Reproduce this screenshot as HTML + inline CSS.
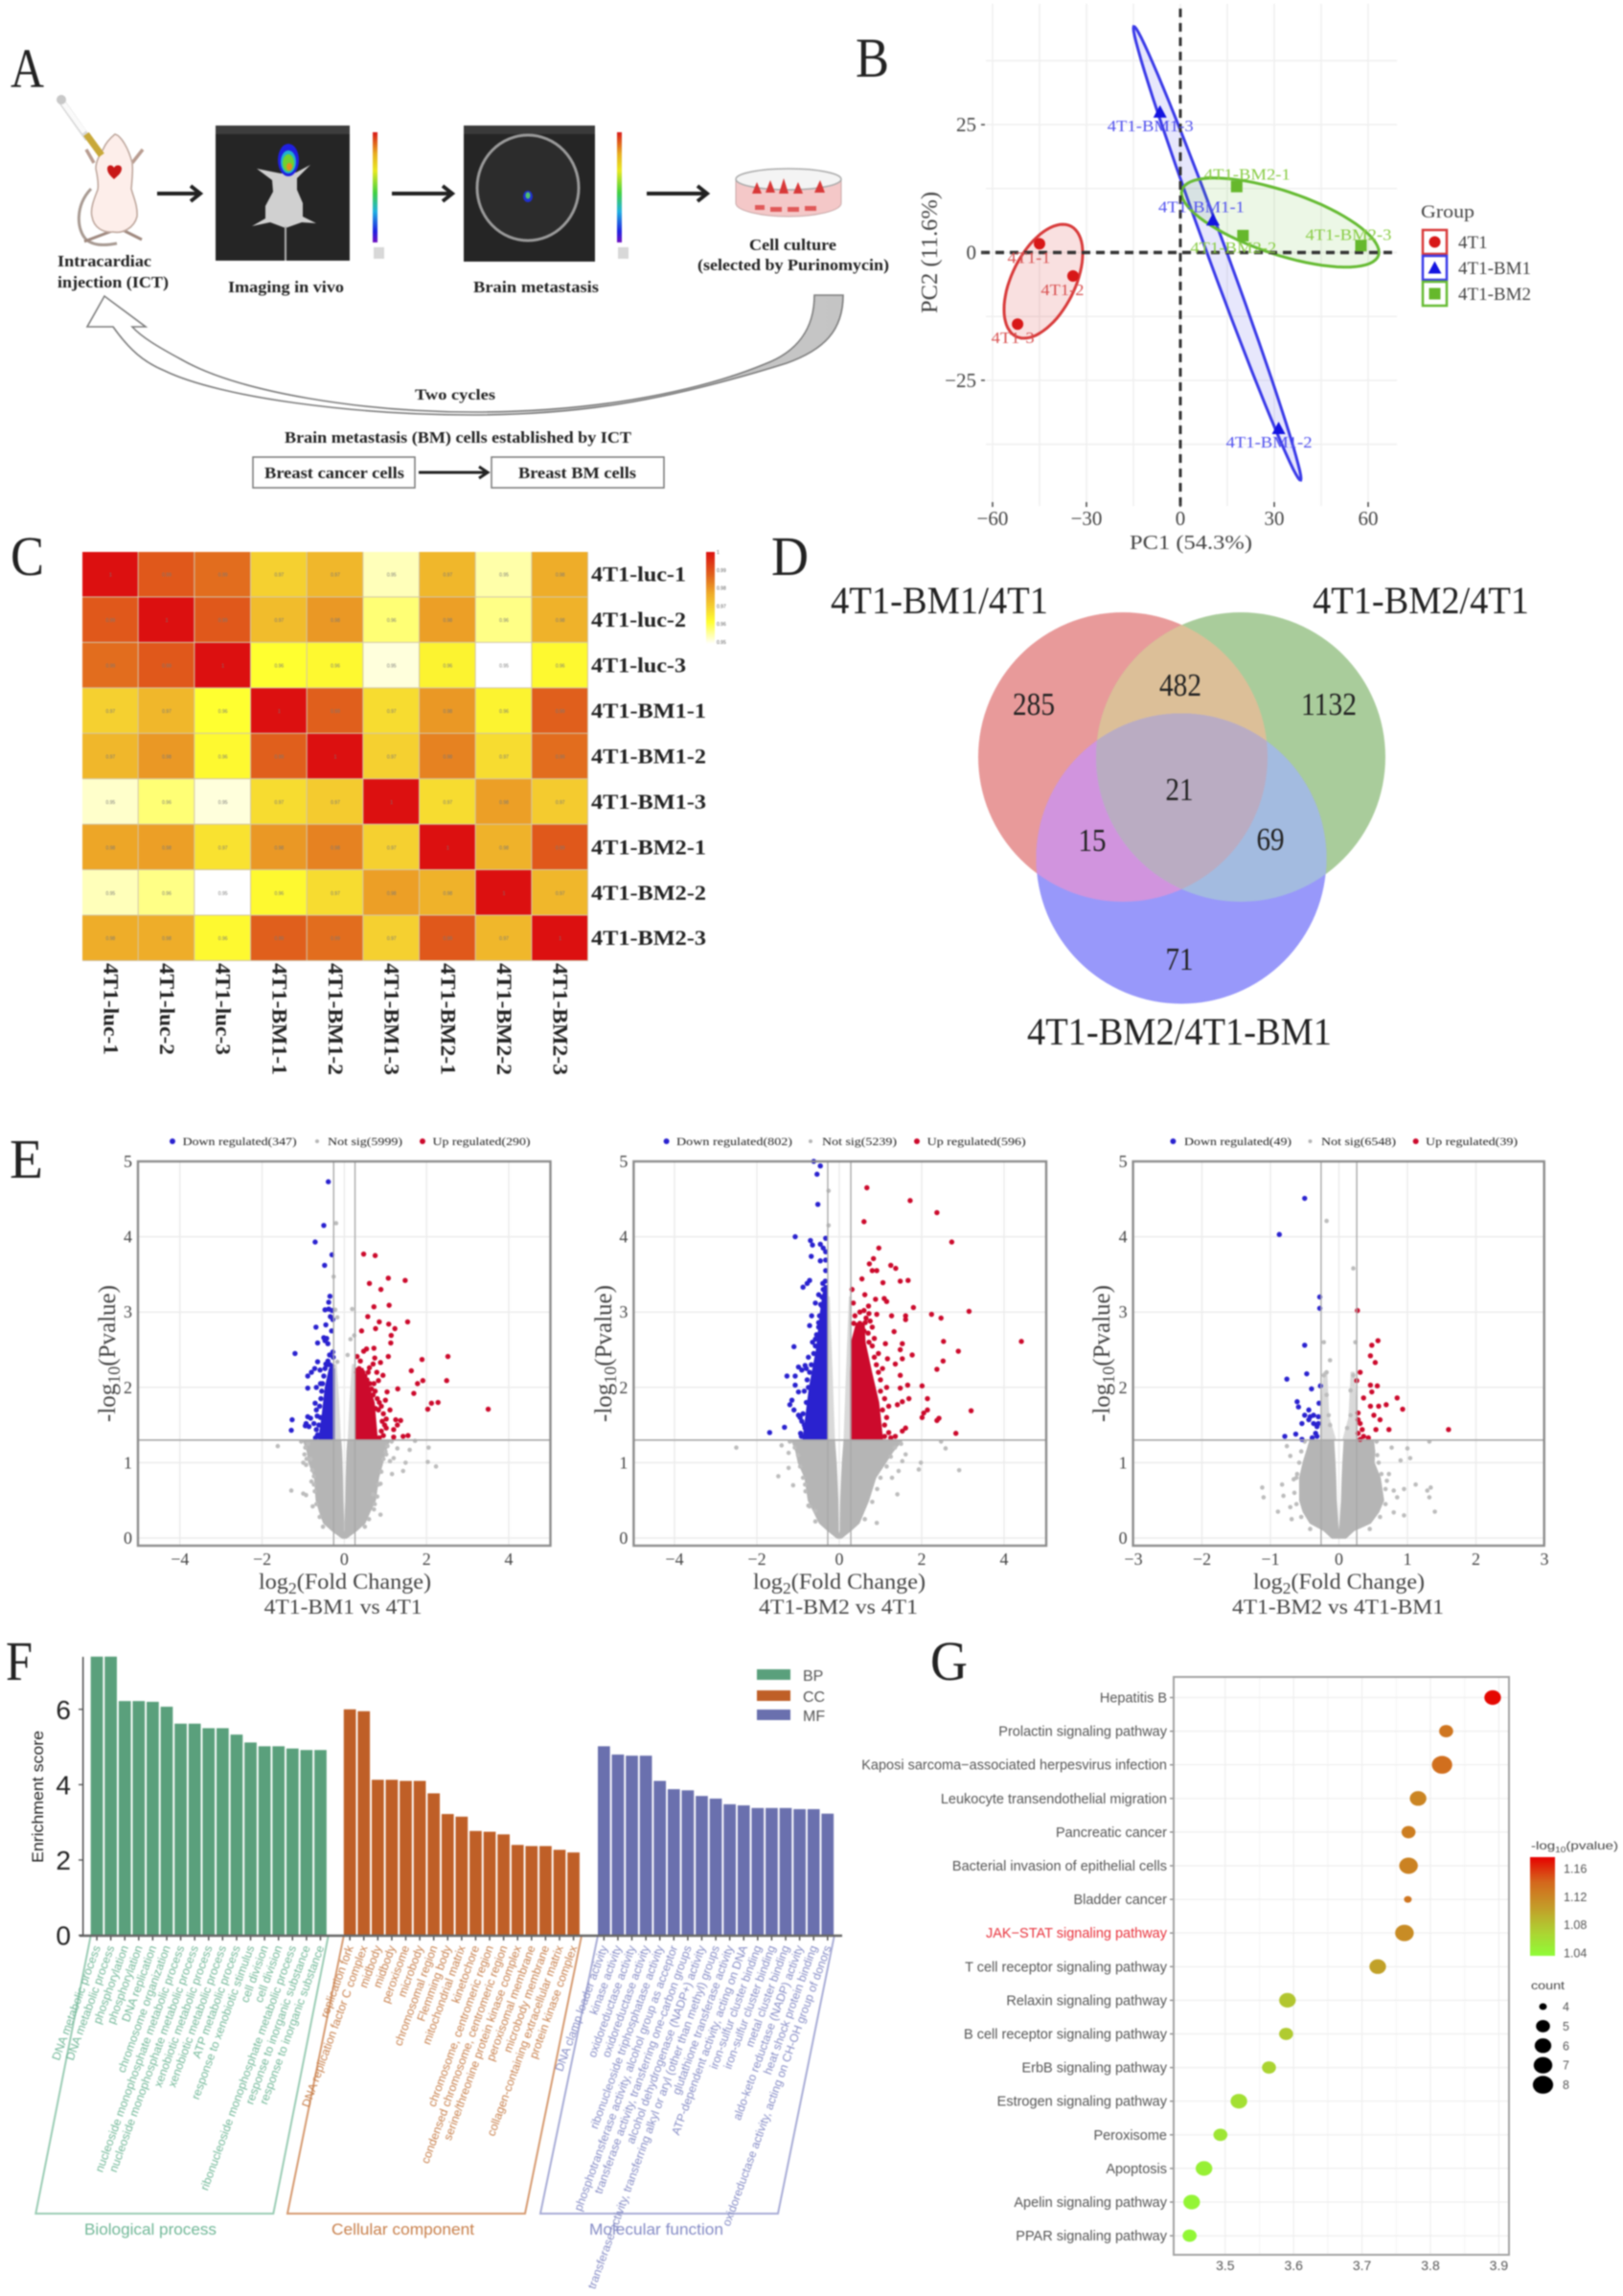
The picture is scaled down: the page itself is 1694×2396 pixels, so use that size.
<!DOCTYPE html>
<html lang="en">
<head>
<meta charset="utf-8">
<title>Brain metastasis multi-panel figure</title>
<style>
html,body{margin:0;padding:0;background:#fff;}
#fig{display:block;filter:blur(.7px);}
.s{font-family:"Liberation Serif",serif;}
.a{font-family:"Liberation Sans",sans-serif;}
.b{font-weight:bold;}
text{fill:#222;}
</style>
</head>
<body>
<svg id="fig" xmlns="http://www.w3.org/2000/svg" width="1694" height="2396" viewBox="0 0 1694 2396">
<defs>
<linearGradient id="rainbow" x1="0" y1="0" x2="0" y2="1">
<stop offset="0" stop-color="#d81818"/><stop offset=".2" stop-color="#e8b020"/><stop offset=".35" stop-color="#e8e820"/><stop offset=".55" stop-color="#40d040"/><stop offset=".72" stop-color="#20b0e0"/><stop offset=".9" stop-color="#2020e0"/><stop offset="1" stop-color="#7010c0"/>
</linearGradient>
<linearGradient id="cycle-fill" x1="0" y1="0" x2="1" y2="0">
<stop offset="0" stop-color="#ffffff"/><stop offset=".5" stop-color="#ffffff"/><stop offset=".62" stop-color="#c8c8c8"/><stop offset="1" stop-color="#c4c4c4"/>
</linearGradient>
<linearGradient id="heat-legend" x1="0" y1="0" x2="0" y2="1">
<stop offset="0" stop-color="#dc1010"/><stop offset=".25" stop-color="#e0621c"/><stop offset=".45" stop-color="#eeaa28"/><stop offset=".6" stop-color="#f5d030"/><stop offset=".76" stop-color="#ffff30"/><stop offset="1" stop-color="#ffffff"/>
</linearGradient>
<linearGradient id="dot-legend" x1="0" y1="0" x2="0" y2="1">
<stop offset="0" stop-color="#e60000"/><stop offset=".25" stop-color="#d4661c"/><stop offset=".5" stop-color="#c49a28"/><stop offset=".75" stop-color="#aed032"/><stop offset="1" stop-color="#8ffc36"/>
</linearGradient>
<clipPath id="clip-red"><circle cx="1172" cy="790" r="151"/></clipPath>
<clipPath id="clip-green"><circle cx="1295" cy="790" r="151"/></clipPath>
</defs>

<!-- PANEL A -->
<g>
<text class="s" x="11" y="91" font-size="58" textLength="35" lengthAdjust="spacingAndGlyphs">A</text>
<g>
<path d="M95,197 C78,215 80,240 90,250 C98,257 112,256 122,254" fill="none" stroke="#a89a92" stroke-width="3"/>
<path d="M88,252 L117,241" stroke="#a08a80" stroke-width="3"/>
<path d="M148,250 L130,241" stroke="#a08a80" stroke-width="3"/>
<path d="M98,170 L90,156 M138,170 L149,156" stroke="#b89c90" stroke-width="3.5" fill="none"/>
<path d="M120,140 C114,145 110,150 108,155 C104,162 100,168 100,176 C102,185 103,192 102,198 C98,208 94,218 96,226 C98,238 108,243 118,242 C128,244 140,238 143,226 C144,215 139,205 137,197 C138,187 139,178 138,170 C136,162 133,155 130,150 C127,145 124,141 120,140 Z" fill="#fdeeea" stroke="#bfa89e" stroke-width="1.6"/>
<path d="M112,176 C112,172 117,171 119,175 C121,171 127,172 127,176 C127,181 122,184 119,187 C116,184 112,181 112,176 Z" fill="#c81818"/>
<path d="M63,104 L92,145" stroke="#d8d8d8" stroke-width="7"/>
<path d="M65,106 L88,138" stroke="#fafafa" stroke-width="5"/>
<path d="M90,140 L106,162" stroke="#c8a838" stroke-width="7"/>
<circle cx="64" cy="104" r="5" fill="#c8c8c8"/>
</g>
<path d="M164,202 H207 M199,194 L209,202 L199,210" fill="none" stroke="#222" stroke-width="4"/>
<g>
<rect x="225" y="131" width="140" height="141" fill="#252525"/>
<rect x="225" y="131" width="140" height="9" fill="#3d3d3d"/>
<path d="M293,181 L268,176 L284,188 L285,200 L277,215 L277,228 L263,236 L282,232 L298,238 L315,232 L330,233 L316,226 L316,212 L310,198 L310,186 L324,172 L309,180 Z" fill="#d0d0d0"/>
<path d="M298,236 V272" stroke="#b0b0b0" stroke-width="2"/>
<ellipse cx="301" cy="167" rx="11" ry="17" fill="#2020e0"/>
<ellipse cx="301" cy="169" rx="8" ry="12" fill="#20b0d0"/>
<ellipse cx="301" cy="170" rx="6" ry="9" fill="#70d030"/>
<ellipse cx="302" cy="174" rx="3" ry="4" fill="#e09020"/>
</g>
<rect x="389" y="138" width="5" height="115" fill="url(#rainbow)"/>
<rect x="390" y="258" width="11" height="12" fill="#d8d8d8"/>
<path d="M409,202 H470 M462,194 L472,202 L462,210" fill="none" stroke="#222" stroke-width="4"/>
<g>
<rect x="484" y="131" width="137" height="142" fill="#252525"/>
<rect x="484" y="131" width="137" height="9" fill="#3a3a3a"/>
<ellipse cx="551" cy="196" rx="53" ry="55" fill="#2c2c2c" stroke="#9a9a9a" stroke-width="3"/>
<ellipse cx="551" cy="205" rx="5" ry="6" fill="#2030d0"/>
<ellipse cx="551" cy="204" rx="2.5" ry="3.5" fill="#50c070"/>
</g>
<rect x="644" y="138" width="5" height="115" fill="url(#rainbow)"/>
<rect x="645" y="258" width="11" height="12" fill="#d8d8d8"/>
<path d="M675,202 H736 M728,194 L738,202 L728,210" fill="none" stroke="#222" stroke-width="4"/>
<g>
<path d="M768,187 V212 C768,220 795,226 823,226 C851,226 878,220 878,212 V187 Z" fill="#f4c8c8" stroke="#c8a8a8"/>
<ellipse cx="823" cy="187" rx="55" ry="11" fill="#f4f4f4" stroke="#aaa" stroke-width="1.5"/>
<path d="M785,202 L790,190 L795,202 Z M799,201 L804,188 L809,201 Z M813,202 L818,186 L823,202 Z M828,202 L833,190 L838,202 Z M850,201 L856,188 L861,201 Z" fill="#d83838"/>
<path d="M788,214 h10 v5 h-10 Z M804,216 h12 v5 h-12 Z M822,216 h12 v5 h-12 Z M840,215 h12 v5 h-12 Z" fill="#e05858"/>
</g>
<path d="M850,308 C850,345 830,368 798,380 C720,412 610,430 494,430 C380,430 250,410 189,375 C165,362 148,352 138,341 L152,341 L109,309 L91,341 L118,341 C135,365 150,378 172,387 C230,415 370,433 494,433 C600,433 690,420 821,379 C860,365 880,345 880,308 Z" fill="url(#cycle-fill)" stroke="#7c7c7c" stroke-width="1.6"/>
<text class="s b" x="60" y="278" font-size="17" textLength="98" lengthAdjust="spacingAndGlyphs">Intracardiac</text>
<text class="s b" x="60" y="300" font-size="17" textLength="116" lengthAdjust="spacingAndGlyphs">injection (ICT)</text>
<text class="s b" x="238" y="305" font-size="17" textLength="121" lengthAdjust="spacingAndGlyphs">Imaging in vivo</text>
<text class="s b" x="494" y="305" font-size="17" textLength="131" lengthAdjust="spacingAndGlyphs">Brain metastasis</text>
<text class="s b" x="782" y="261" font-size="17" textLength="91" lengthAdjust="spacingAndGlyphs">Cell culture</text>
<text class="s b" x="728" y="282" font-size="17" textLength="200" lengthAdjust="spacingAndGlyphs">(selected by Purinomycin)</text>
<text class="s b" x="433" y="417" font-size="16" textLength="84" lengthAdjust="spacingAndGlyphs">Two cycles</text>
<text class="s b" x="297" y="462" font-size="17" textLength="362" lengthAdjust="spacingAndGlyphs">Brain metastasis (BM) cells established by ICT</text>
<rect x="264" y="477" width="169" height="32" fill="#fff" stroke="#777" stroke-width="1.5"/>
<text class="s b" x="276" y="499" font-size="17" textLength="146" lengthAdjust="spacingAndGlyphs">Breast cancer cells</text>
<path d="M437,493 H506 M500,487 L509,493 L500,499" fill="none" stroke="#222" stroke-width="3"/>
<rect x="513" y="477" width="180" height="32" fill="#fff" stroke="#777" stroke-width="1.5"/>
<text class="s b" x="541" y="499" font-size="17" textLength="123" lengthAdjust="spacingAndGlyphs">Breast BM cells</text>
</g>

<!-- PANEL B -->
<g id="pca">
<text class="s" x="893" y="80" font-size="58" textLength="35" lengthAdjust="spacingAndGlyphs">B</text>
<text class="s" x="1179" y="573" font-size="21" fill="#444" textLength="128" lengthAdjust="spacingAndGlyphs" style="fill:#444">PC1 (54.3%)</text>
<text class="s" transform="translate(978,327) rotate(-90)" font-size="24" textLength="127" lengthAdjust="spacingAndGlyphs" style="fill:#444">PC2 (11.6%)</text>
<text class="s" x="1483" y="227" font-size="19" textLength="56" lengthAdjust="spacingAndGlyphs" style="fill:#444">Group</text>
</g>

<!-- PANEL C -->
<g id="heatmap">
<text class="s" x="11" y="600" font-size="58" textLength="35" lengthAdjust="spacingAndGlyphs">C</text>
<rect x="737" y="576" width="9" height="96" fill="url(#heat-legend)"/>
<rect x="86" y="576" width="528" height="427" fill="#d2c6ac"/>
</g>

<!-- PANEL D -->
<g>
<text class="s" x="805" y="600" font-size="58" textLength="39" lengthAdjust="spacingAndGlyphs">D</text>
<circle cx="1172" cy="790" r="151" fill="#e89a9a"/>
<circle cx="1295" cy="790" r="151" fill="#a9cc9b"/>
<circle cx="1233" cy="896" r="151.5" fill="#9898fa"/>
<circle cx="1295" cy="790" r="151" fill="#dcbf98" clip-path="url(#clip-red)"/>
<circle cx="1233" cy="896" r="151.5" fill="#d194de" clip-path="url(#clip-red)"/>
<circle cx="1233" cy="896" r="151.5" fill="#a3bbe0" clip-path="url(#clip-green)"/>
<g clip-path="url(#clip-red)"><circle cx="1233" cy="896" r="151.5" fill="#baacc2" clip-path="url(#clip-green)"/></g>
<text class="s" x="867" y="640" font-size="40" textLength="227" lengthAdjust="spacingAndGlyphs">4T1-BM1/4T1</text>
<text class="s" x="1370" y="640" font-size="40" textLength="226" lengthAdjust="spacingAndGlyphs">4T1-BM2/4T1</text>
<text class="s" x="1072" y="1090" font-size="40" textLength="318" lengthAdjust="spacingAndGlyphs">4T1-BM2/4T1-BM1</text>
<text class="s" x="1079" y="746" font-size="34" text-anchor="middle" textLength="44" lengthAdjust="spacingAndGlyphs">285</text>
<text class="s" x="1232" y="726" font-size="34" text-anchor="middle" textLength="44" lengthAdjust="spacingAndGlyphs">482</text>
<text class="s" x="1387" y="746" font-size="34" text-anchor="middle" textLength="58" lengthAdjust="spacingAndGlyphs">1132</text>
<text class="s" x="1231" y="835" font-size="34" text-anchor="middle" textLength="29" lengthAdjust="spacingAndGlyphs">21</text>
<text class="s" x="1140" y="888" font-size="34" text-anchor="middle" textLength="29" lengthAdjust="spacingAndGlyphs">15</text>
<text class="s" x="1326" y="887" font-size="34" text-anchor="middle" textLength="29" lengthAdjust="spacingAndGlyphs">69</text>
<text class="s" x="1231" y="1012" font-size="34" text-anchor="middle" textLength="29" lengthAdjust="spacingAndGlyphs">71</text>
</g>

<!-- PANEL E -->
<g id="volcanoes">
<text class="s" x="10" y="1229" font-size="58" textLength="35" lengthAdjust="spacingAndGlyphs">E</text>
</g>
<g>
<g>
<circle cx="180" cy="1191" r="3" fill="#2a22cf"/>
<text class="s" x="190.6" y="1195" font-size="12" textLength="119" lengthAdjust="spacingAndGlyphs">Down regulated(347)</text>
<circle cx="331" cy="1191" r="2" fill="#b5b5b5"/>
<text class="s" x="342" y="1195" font-size="12" textLength="78" lengthAdjust="spacingAndGlyphs">Not sig(5999)</text>
<circle cx="441" cy="1191" r="3" fill="#cc0a2c"/>
<text class="s" x="451.5" y="1195" font-size="12" textLength="102" lengthAdjust="spacingAndGlyphs">Up regulated(290)</text>
</g>
<text class="s" x="270" y="1658" font-size="23" textLength="180" lengthAdjust="spacingAndGlyphs" style="fill:#444">log<tspan dy="5" font-size="17">2</tspan><tspan dy="-5">(Fold Change)</tspan></text>
<text class="s" x="275.6" y="1684" font-size="22" textLength="165" lengthAdjust="spacingAndGlyphs" style="fill:#444">4T1-BM1 vs 4T1</text>
<text class="s" transform="translate(120,1484) rotate(-90)" font-size="25" textLength="143" lengthAdjust="spacingAndGlyphs" style="fill:#444">-log<tspan dy="5" font-size="18">10</tspan><tspan dy="-5">(Pvalue)</tspan></text>

<g>
<circle cx="695.6" cy="1191" r="3" fill="#2a22cf"/>
<text class="s" x="706" y="1195" font-size="12" textLength="121" lengthAdjust="spacingAndGlyphs">Down regulated(802)</text>
<circle cx="846" cy="1191" r="2" fill="#b5b5b5"/>
<text class="s" x="858" y="1195" font-size="12" textLength="78" lengthAdjust="spacingAndGlyphs">Not sig(5239)</text>
<circle cx="957" cy="1191" r="3" fill="#cc0a2c"/>
<text class="s" x="967.7" y="1195" font-size="12" textLength="103" lengthAdjust="spacingAndGlyphs">Up regulated(596)</text>
</g>
<text class="s" x="786" y="1658" font-size="23" textLength="180" lengthAdjust="spacingAndGlyphs" style="fill:#444">log<tspan dy="5" font-size="17">2</tspan><tspan dy="-5">(Fold Change)</tspan></text>
<text class="s" x="792" y="1684" font-size="22" textLength="166" lengthAdjust="spacingAndGlyphs" style="fill:#444">4T1-BM2 vs 4T1</text>
<text class="s" transform="translate(638,1484) rotate(-90)" font-size="25" textLength="143" lengthAdjust="spacingAndGlyphs" style="fill:#444">-log<tspan dy="5" font-size="18">10</tspan><tspan dy="-5">(Pvalue)</tspan></text>

<g>
<circle cx="1224.4" cy="1191" r="3" fill="#2a22cf"/>
<text class="s" x="1236" y="1195" font-size="12" textLength="112" lengthAdjust="spacingAndGlyphs">Down regulated(49)</text>
<circle cx="1367.5" cy="1191" r="2" fill="#b5b5b5"/>
<text class="s" x="1379" y="1195" font-size="12" textLength="78" lengthAdjust="spacingAndGlyphs">Not sig(6548)</text>
<circle cx="1477.7" cy="1191" r="3" fill="#cc0a2c"/>
<text class="s" x="1488" y="1195" font-size="12" textLength="96" lengthAdjust="spacingAndGlyphs">Up regulated(39)</text>
</g>
<text class="s" x="1308" y="1658" font-size="23" textLength="179" lengthAdjust="spacingAndGlyphs" style="fill:#444">log<tspan dy="5" font-size="17">2</tspan><tspan dy="-5">(Fold Change)</tspan></text>
<text class="s" x="1286" y="1684" font-size="22" textLength="221" lengthAdjust="spacingAndGlyphs" style="fill:#444">4T1-BM2 vs 4T1-BM1</text>
<text class="s" transform="translate(1158,1484) rotate(-90)" font-size="25" textLength="143" lengthAdjust="spacingAndGlyphs" style="fill:#444">-log<tspan dy="5" font-size="18">10</tspan><tspan dy="-5">(Pvalue)</tspan></text>
</g>

<!-- PANEL F -->
<g id="enrichment">
<text class="s" x="6" y="1753" font-size="58" textLength="28" lengthAdjust="spacingAndGlyphs">F</text>
<polygon points="94.7,2020 342.7,2020 285.3,2310 37.3,2310" fill="none" stroke="#9accb4" stroke-width="2"/>
<polygon points="358.8,2020 607,2020 548,2310 300,2310" fill="none" stroke="#d69a70" stroke-width="2"/>
<polygon points="624,2020 870.8,2020 812,2310 564,2310" fill="none" stroke="#a8acd6" stroke-width="2"/>
<text class="a" x="88" y="2332" font-size="17" textLength="138" lengthAdjust="spacingAndGlyphs" style="fill:#72b898">Biological process</text>
<text class="a" x="346" y="2332" font-size="17" textLength="149" lengthAdjust="spacingAndGlyphs" style="fill:#c8804c">Cellular component</text>
<text class="a" x="615" y="2332" font-size="17" textLength="140" lengthAdjust="spacingAndGlyphs" style="fill:#868cc6">Molecular function</text>
<text class="a" transform="translate(45,1944) rotate(-90)" font-size="17" textLength="138" lengthAdjust="spacingAndGlyphs">Enrichment score</text>
<rect x="790" y="1742" width="35" height="11" fill="#5aa07c"/>
<rect x="790" y="1764" width="35" height="11" fill="#bf5f27"/>
<rect x="790" y="1784" width="35" height="11" fill="#6a70ae"/>
<text class="a" x="838" y="1754" font-size="16" style="fill:#555">BP</text>
<text class="a" x="838" y="1776" font-size="16" style="fill:#555">CC</text>
<text class="a" x="838" y="1796" font-size="16" style="fill:#555">MF</text>
</g>

<!-- PANEL G -->
<g id="dotplot">
<text class="s" x="971" y="1753" font-size="58" textLength="39" lengthAdjust="spacingAndGlyphs">G</text>
<text class="a" x="1598" y="1930" font-size="12" textLength="91" lengthAdjust="spacingAndGlyphs" style="fill:#444">-log<tspan dy="3" font-size="8">10</tspan><tspan dy="-3">(pvalue)</tspan></text>
<rect x="1597" y="1938" width="26" height="103" fill="url(#dot-legend)"/>
<text class="a" x="1598" y="2076" font-size="12" textLength="35" lengthAdjust="spacingAndGlyphs" style="fill:#444">count</text>
</g>

<script>
const NS = 'http://www.w3.org/2000/svg';
function el(parent, tag, attrs, txt) {
  const e = document.createElementNS(NS, tag);
  for (const k in attrs) e.setAttribute(k, attrs[k]);
  if (txt !== undefined) e.textContent = txt;
  parent.appendChild(e);
  return e;
}
function lerpStops(stops, t) {
  t = Math.max(0, Math.min(1, t));
  for (let i = 1; i < stops.length; i++) {
    if (t <= stops[i][0]) {
      const a = stops[i - 1], b = stops[i], f = (t - a[0]) / (b[0] - a[0]);
      const c = [0, 1, 2].map(j => Math.round(a[1][j] + (b[1][j] - a[1][j]) * f));
      return 'rgb(' + c.join(',') + ')';
    }
  }
  const l = stops[stops.length - 1][1];
  return 'rgb(' + l.join(',') + ')';
}

/* ---------- PCA data ---------- */
const pcaXTicks = [-60, -30, 0, 30, 60];
const pcaYTicks = [25, 0, -25];
const pcaGroups = ['4T1', '4T1-BM1', '4T1-BM2'];
const pca4T1 = [[-45, 1.7], [-34.3, -4.6], [-52, -14]];
const pcaBM1 = [[10.4, 6.4], [31.4, -34.4], [-6.5, 27.5]];
const pcaBM2 = [[18, 12.9], [20, 3.3], [57.7, 1.35]];
const pca4T1Names = ['4T1-1', '4T1-2', '4T1-3'];
const pcaBM1Names = ['4T1-BM1-1', '4T1-BM1-2', '4T1-BM1-3'];
const pcaBM2Names = ['4T1-BM2-1', '4T1-BM2-2', '4T1-BM2-3'];

/* ---------- Heatmap data ---------- */
const heatRows = ['4T1-luc-1', '4T1-luc-2', '4T1-luc-3', '4T1-BM1-1', '4T1-BM1-2', '4T1-BM1-3', '4T1-BM2-1', '4T1-BM2-2', '4T1-BM2-3'];
const heatValues = [
  [1, .989, .986, .970, .975, .954, .975, .955, .977],
  [.989, 1, .989, .974, .980, .958, .979, .957, .976],
  [.986, .989, 1, .962, .963, .952, .964, .950, .963],
  [.970, .975, .962, 1, .988, .968, .980, .964, .988],
  [.975, .980, .963, .988, 1, .970, .983, .968, .986],
  [.953, .958, .952, .968, .971, 1, .968, .979, .971],
  [.978, .979, .967, .980, .983, .970, 1, .976, .989],
  [.954, .957, .950, .963, .968, .979, .976, 1, .975],
  [.977, .977, .963, .988, .986, .970, .989, .975, 1]
];
const heatLegendTicks = [1, .99, .98, .97, .96, .95];

/* ---------- Volcano data: [log2FC, -log10P] ---------- */
const volcanoYTicks = [0, 1, 2, 3, 4, 5];
const volcanoXTicks12 = [-4, -2, 0, 2, 4];
const volcanoXTicks3 = [-3, -2, -1, 0, 1, 2, 3];

/* rows: [p, outerLeft, innerLeft, innerRight, outerRight] */
const v1Cloud = [[0,-.05,0,0,.05],[.1,-.3,-.02,.02,.3],[.2,-.5,-.02,.02,.5],[.35,-.6,-.03,.03,.62],[.5,-.68,-.04,.04,.75],[.8,-.72,-.05,.05,.83],[1,-.86,-.06,.06,.93],[1.15,-.9,-.07,.07,1],[1.3,-1,-.09,.09,1.1]];
const v1Spike = [[1.3,-.26,-.1,.1,.26],[1.8,-.26,-.14,.14,.26],[2.3,-.26,-.2,.2,.26]];
const v1DownDense = [[1.3,-.62,-.25],[1.6,-.54,-.25],[2,-.46,-.25],[2.25,-.36,-.25]];
const v1UpDense = [[1.3,.27,.8],[1.8,.27,.72],[2.25,.27,.45]];
const v1NotSig = [[-1.62,1.22],[2.05,1.2],[2.03,1.01],[2.23,.95],[1.72,1.29],[1.59,1.17],[1.49,1],[1.43,.89],[1.29,1.19],[1.16,.85],[.88,.31],[-1.29,.63],[-1,.59],[-.93,.57],[-.77,.42],[-.97,1.11],[-1,1],[-.93,.97],[-.74,.82],[-.74,.71],[-.2,4.18],[-.26,3.47],[.19,3.04],[-.17,2.93],[-.22,3.03],[.24,2.69],[.15,2.64],[.08,2.43],[-.17,2.34],[1.02,1.11],[1.11,1.02],[1.2,1.06],[.83,.71],[.74,.45],[.7,.58],[-1.05,1.28],[-.95,1.2],[-.88,1.25],[-.92,1.05],[-.82,1.05],[-.78,.9],[-.8,.75],[-.72,.62],[-.68,.45],[-.6,.28],[-.52,.15],[1.15,1.28],[1.05,1.22],[1,1.15],[.95,1.05],[.9,.88],[.88,.72],[.8,.55],[.72,.38],[.6,.25],[.5,.15]];
const v1Down = [[-.39,4.73],[-.5,4.15],[-.71,3.93],[-.3,3.76],[-.48,3.62],[-.35,3.21],[-.38,3.13],[-.47,3.03],[-.38,3.04],[-.3,3.02],[-.34,2.94],[-.28,2.9],[-.45,2.83],[-.69,2.8],[-.31,2.75],[-.5,2.66],[-.43,2.65],[-.47,2.62],[-.65,2.59],[-.4,2.58],[-1.2,2.45],[-.28,2.47],[-.36,2.43],[-.27,2.4],[-.65,2.34],[-.45,2.31],[-.72,2.25],[-.8,2.2],[-.89,2.15],[-.59,2.23],[-.89,1.99],[-.68,2],[-.71,1.79],[-.68,1.7],[-1.27,1.57],[-.89,1.61],[-.82,1.59],[-.93,1.52],[-.95,1.49],[-.86,1.48],[-1.29,1.43],[-.68,1.44],[-.74,1.52],[-.65,1.37],[-.62,1.5],[-.66,1.62],[-.6,1.75],[-.57,1.85],[-.55,1.95],[-.58,2.05],[-.5,2.15],[-.47,2.25],[-.42,2.3],[-.7,1.33],[-.62,1.35],[-.58,1.6],[-.53,2.05],[-.4,2.35],[-.35,2.3],[-.3,2.28]];
const v1Up = [[.47,3.77],[.75,3.75],[1.07,3.45],[1.48,3.42],[.61,3.38],[.89,3.3],[.72,3.07],[1.09,3.09],[.57,2.94],[.85,2.87],[1.54,2.87],[1.08,2.84],[1.23,2.78],[.76,2.78],[.42,2.75],[1.14,2.69],[1.13,2.59],[.72,2.52],[.54,2.51],[.47,2.48],[.31,2.41],[.74,2.39],[1.07,2.41],[2.52,2.41],[1.89,2.37],[.88,2.33],[.7,2.31],[.39,2.35],[1.63,2.22],[.61,2.26],[.79,2.2],[.94,2.16],[.83,2.09],[1.91,2.09],[1.78,2.05],[2.49,2.09],[1.3,1.98],[1.04,1.94],[1.69,1.92],[1,1.83],[2.12,1.79],[2.28,1.8],[2.03,1.71],[3.5,1.71],[1.11,1.7],[.83,1.7],[1.25,1.57],[1.37,1.56],[1.29,1.5],[1.2,1.44],[1.02,1.46],[1.55,1.36],[1.43,1.35],[1.2,1.34],[.3,2.2],[.36,2.25],[.45,2.2],[.5,2.15],[.55,2.1],[.62,2.05],[.66,1.98],[.7,1.9],[.75,1.95],[.8,1.85],[.85,1.8],[.9,1.75],[.95,1.65],[.92,1.55],[.98,1.5],[.9,1.42],[.95,1.36],[.85,1.33],[1.02,1.58],[.76,1.72],[.72,2.05],[.58,2.2]];

const v2Cloud = [[0,-.05,0,0,.05],[.1,-.28,-.03,.03,.28],[.2,-.48,-.03,.03,.48],[.5,-.75,-.04,.04,.71],[.8,-.83,-.06,.06,.88],[1,-.99,-.08,.08,1.12],[1.15,-1.05,-.1,.1,1.3],[1.3,-1.15,-.12,.12,1.53]];
const v2Spike = [[1.3,-.28,-.12,.12,.28],[2.5,-.28,-.2,.2,.28],[3.2,-.28,-.25,.25,.28]];
const v2DownDense = [[1.3,-.88,-.29],[2,-.72,-.29],[2.5,-.55,-.29],[3,-.45,-.29],[3.35,-.36,-.29]];
const v2UpDense = [[1.3,.28,1.05],[1.8,.28,.95],[2.2,.28,.78],[2.6,.3,.62],[2.85,.42,.6]];
const v2NotSig = [[-2.5,1.2],[2.47,1.28],[2.58,1.19],[2.91,.9],[1.98,1],[1.93,.91],[-1.48,.82],[-1.12,.7],[-1.23,.93],[-.83,.71],[.91,.2],[1.61,1.11],[1.53,1.02],[1.44,.89],[1.41,.58],[1.28,.8],[-.75,.43],[-.58,.36],[-.26,4.61],[-.26,4.15],[-1.4,1.23],[-1.23,1.13],[-1.2,1.28],[-1.08,1.2],[-1,1.1],[-.95,.95],[-.88,.8],[-.82,.62],[-.72,.42],[-.58,.22],[1.5,1.25],[1.35,1.2],[1.25,1.08],[1.15,.95],[1,.8],[.92,.65],[.8,.48],[.62,.25]];
const v2Down = [[-.62,5],[-.46,4.94],[-.54,4.83],[-.52,4.43],[-1.07,4],[-.33,3.98],[-.7,3.95],[-.65,3.89],[-.46,3.9],[-.39,3.85],[-.33,3.8],[-.68,3.74],[-.33,3.69],[-.46,3.68],[-.33,3.55],[-.72,3.42],[-.78,3.38],[-.34,3.41],[-.88,3.33],[-.39,3.3],[-.5,3.23],[-.39,3.19],[-.58,3.12],[-.42,3.08],[-.67,2.95],[-.5,2.86],[-.72,2.82],[-.58,2.64],[-1.1,2.54],[-.75,2.4],[-.83,2.29],[-.99,2.27],[-1.27,2.15],[-1.07,2.15],[-.91,2.23],[-1.07,2.03],[-.99,1.94],[-1.15,1.83],[-1.2,1.77],[-1.1,1.7],[-.99,1.63],[-1.33,1.47],[-1.69,1.4],[-.91,1.55],[-.94,1.39],[-.83,1.46],[-.92,1.35],[-.85,1.5],[-.88,1.65],[-.8,1.8],[-.85,1.95],[-.78,2.1],[-.72,2.2],[-.68,2.3],[-.62,2.45],[-.58,2.55],[-.55,2.7],[-.5,2.8],[-.48,2.95],[-.45,3.1],[-.42,3.2],[-.4,3.38],[-.95,1.6],[-.75,2],[-.8,2.25],[-.65,2.6]];
const v2Up = [[.67,4.65],[1.72,4.48],[2.37,4.32],[.6,4.2],[2.73,3.93],[.96,3.85],[.83,3.71],[.73,3.64],[1.25,3.62],[1.37,3.58],[.8,3.55],[.91,3.55],[.55,3.44],[1.48,3.41],[1.67,3.42],[1.06,3.39],[.31,3.3],[.62,3.23],[.88,3.17],[1.09,3.18],[1.15,3.14],[.34,3.12],[.71,3.08],[1.8,3.06],[3.15,3.01],[2.24,2.97],[2.47,2.92],[1.27,2.95],[1.61,2.95],[1.61,2.9],[.91,2.97],[.63,2.86],[1.33,2.74],[2.53,2.61],[4.42,2.61],[1.53,2.58],[1.12,2.58],[2.89,2.48],[1.48,2.5],[1.77,2.43],[1.17,2.38],[1.53,2.38],[1.36,2.31],[2.52,2.35],[2.37,2.24],[1.48,2.16],[2.01,2.02],[1.66,2.03],[1.48,1.99],[2.14,1.85],[1.69,1.85],[1.53,1.81],[1.41,1.77],[3.2,1.69],[2.14,1.7],[2.05,1.66],[2.01,1.6],[2.42,1.59],[2.37,1.56],[1.61,1.46],[1.53,1.42],[2.83,1.39],[1.36,1.35],[1.1,1.35],[1.2,1.4],[1.25,1.33],[1.1,1.5],[1.15,1.6],[1.05,1.7],[1.2,1.75],[1.1,1.85],[1,1.95],[1.15,2],[1,2.1],[.95,2.2],[1.05,2.25],[.9,2.3],[.85,2.4],[.95,2.45],[.8,2.55],[.72,2.6],[.85,2.65],[.7,2.72],[.6,2.75],[.8,2.8],[.5,2.85],[.75,2.88],[.65,2.92],[.45,2.7],[.4,2.55],[.35,2.85],[.38,2.95],[.5,3],[.6,3.02],[.72,2.98]];

const v3Cloud = [[0,-.1,0,0,.1],[.1,-.22,-.01,.01,.22],[.2,-.42,-.02,.02,.46],[.35,-.52,-.03,.03,.58],[.5,-.57,-.04,.04,.65],[.8,-.57,-.05,.05,.6],[1,-.52,-.06,.06,.51],[1.15,-.47,-.07,.07,.52],[1.3,-.42,-.08,.08,.5]];
const v3Spike = [[1.3,-.26,-.05,.06,.26],[1.6,-.26,-.15,.15,.26],[2.2,-.22,-.18,.18,.22]];
const v3DownDense = [];
const v3UpDense = [];
const v3NotSig = [[-.18,4.21],[.21,3.58],[-.22,2.6],[.24,2.6],[-.13,2.36],[-.18,2.2],[-.22,2.16],[.21,2.16],[.17,1.96],[-.18,1.9],[-.15,1.63],[.17,1.63],[-.13,1.5],[.12,1.46],[1.32,1.28],[1,1.19],[1.04,1.06],[.9,1.03],[-1.12,.67],[-1.1,.54],[-.83,.71],[-.81,.56],[-.89,.35],[-.71,.41],[-.69,.25],[1.4,.35],[1.34,.67],[1.29,.63],[1.32,.54],[1.12,.71],[.95,.65],[.85,.54],[.8,.63],[.95,.3],[.8,.34],[-.61,.85],[-.66,.78],[.73,.85],[.7,.76],[-.76,1.22],[-.71,1.09],[.77,1.2],[-.5,1.28],[-.55,1.15],[-.58,1],[-.62,.8],[-.65,.6],[-.62,.45],[-.55,.28],[-.42,.12],[.55,1.28],[.56,1.1],[.58,1],[.62,.85],[.68,.65],[.68,.45],[.6,.28],[.45,.12]];
const v3Down = [[-.5,4.51],[-.87,4.03],[-.28,3.2],[-.28,3.05],[-.5,2.56],[-.47,2.18],[-.76,2.11],[-.27,2.02],[-.4,1.98],[-.61,1.81],[-.59,1.74],[-.29,1.79],[-.44,1.7],[-.5,1.63],[-.37,1.63],[-.3,1.61],[-.54,1.52],[-.44,1.57],[-.37,1.52],[-.32,1.48],[-.63,1.38],[-.79,1.35],[-.54,1.31],[-.34,1.39],[-.32,1.35],[-.39,1.33],[-.3,1.52],[-.42,1.61]];
const v3Up = [[.27,3.02],[.57,2.62],[.48,2.56],[.46,2.42],[.53,2.33],[.31,2.2],[.26,2.09],[.46,2.03],[.56,2.02],[.48,1.94],[.85,1.86],[.36,1.86],[.69,1.77],[.46,1.75],[.58,1.75],[.93,1.71],[.28,1.66],[.51,1.63],[.6,1.57],[.28,1.57],[.31,1.52],[.73,1.44],[1.6,1.44],[.34,1.44],[.28,1.39],[.36,1.35],[.43,1.33],[.31,1.31],[.54,1.44]];

/* ---------- GO enrichment data ---------- */
const enrichTicks = [0, 2, 4, 6];
const bpScores = [7.4,7.4,6.22,6.22,6.2,6.07,5.62,5.62,5.5,5.5,5.33,5.12,5.02,5.02,4.96,4.92,4.92];
const ccScores = [6,5.95,4.13,4.13,4.1,4.1,3.77,3.22,3.15,2.77,2.75,2.68,2.4,2.37,2.37,2.27,2.2];
const mfScores = [5.02,4.8,4.77,4.77,4.1,3.88,3.85,3.7,3.63,3.48,3.45,3.38,3.38,3.38,3.35,3.35,3.23];
const bpTerms = ['DNA metabolic process','DNA metabolic process','phosphorylation','phosphorylation','DNA replication','chromosome organization','nucleoside monophosphate metabolic process','nucleoside monophosphate metabolic process','xenobiotic metabolic process','xenobiotic metabolic process','ATP metabolic process','response to xenobiotic stimulus','cell division','cell division','ribonucleoside monophosphate metabolic process','response to inorganic substance','response to inorganic substance'];
const ccTerms = ['replication fork','DNA replication factor C complex','midbody','midbody','peroxisome','microbody','chromosomal region','Flemming body','mitochondrial matrix','kinetochore','chromosome, centromeric region','condensed chromosome, centromeric region','serine/threonine protein kinase complex','peroxisomal membrane','microbody membrane','collagen-containing extracellular matrix','protein kinase complex'];
const mfTerms = ['DNA clamp loader activity','kinase activity','oxidoreductase activity','oxidoreductase activity','ribonucleoside triphosphatase activity','phosphotransferase activity, alcohol group as acceptor','transferase activity, transferring one-carbon groups','alcohol dehydrogenase (NADP+) activity','transferase activity, transferring alkyl or aryl (other than methyl) groups','glutathione transferase activity','ATP-dependent activity, acting on DNA','iron-sulfur cluster binding','iron-sulfur cluster binding','metal cluster binding','aldo-keto reductase (NADP) activity','heat shock protein binding','oxidoreductase activity, acting on CH-OH group of donors'];

/* ---------- KEGG dot plot data ---------- */
const pathways = ['Hepatitis B','Prolactin signaling pathway','Kaposi sarcoma\u2212associated herpesvirus infection','Leukocyte transendothelial migration','Pancreatic cancer','Bacterial invasion of epithelial cells','Bladder cancer','JAK\u2212STAT signaling pathway','T cell receptor signaling pathway','Relaxin signaling pathway','B cell receptor signaling pathway','ErbB signaling pathway','Estrogen signaling pathway','Peroxisome','Apoptosis','Apelin signaling pathway','PPAR signaling pathway'];
const enrichmentFactor = [3.891,3.823,3.817,3.782,3.768,3.768,3.767,3.762,3.723,3.591,3.589,3.564,3.52,3.493,3.469,3.451,3.448];
const pathwayCount = [6,5,8,6,5,7,4,7,6,6,5,5,6,5,6,6,5];
const pathwayLogP = [1.175,1.13,1.135,1.12,1.125,1.122,1.13,1.115,1.1,1.075,1.072,1.065,1.055,1.05,1.042,1.038,1.036];
const dotXTicks = [3.5, 3.6, 3.7, 3.8, 3.9];
const colorLegendTicks = [1.16, 1.12, 1.08, 1.04];
const sizeLegendTicks = [4, 5, 6, 7, 8];

/* ---------- PCA ---------- */
(function () {
  const g = document.getElementById('pca');
  const X = v => 1232 + 3.267 * v;
  const Y = v => 263.5 - 5.336 * v;
  [-60,-45,-30,-15,0,15,30,45,60].forEach(v => {
    const l = el(g, 'line', {x1: X(v), x2: X(v), y1: 4, y2: 528, stroke: '#efefef', 'stroke-width': 1.5});
    
    
  });
  [37.5,25,12.5,0,-12.5,-25,-37.5].forEach(v => {
    const l = el(g, 'line', {x1: 1029, x2: 1458, y1: Y(v), y2: Y(v), stroke: '#efefef', 'stroke-width': 1.5});
    
    
  });
  function ell(points, color, fill, name) {
    const n = points.length;
    const mx = points.reduce((a, p) => a + p[0], 0) / n;
    const my = points.reduce((a, p) => a + p[1], 0) / n;
    let sxx = 0, syy = 0, sxy = 0;
    points.forEach(p => { sxx += (p[0]-mx)*(p[0]-mx); syy += (p[1]-my)*(p[1]-my); sxy += (p[0]-mx)*(p[1]-my); });
    sxx /= n-1; syy /= n-1; sxy /= n-1;
    const a = Math.sqrt(Math.max(sxx, 0)), b = Math.sqrt(Math.max(syy, 0));
    const r = sxy / (a * b);
    const k = 1.41;
    let d = '';
    for (let i = 0; i <= 72; i++) {
      const t = i / 72 * 2 * Math.PI;
      const dx = k * a * Math.cos(t);
      const dy = k * b * (r * Math.cos(t) + Math.sqrt(Math.max(0, 1 - r * r)) * Math.sin(t));
      d += (i ? 'L' : 'M') + X(mx + dx).toFixed(1) + ',' + Y(my + dy).toFixed(1);
    }
    const p = el(g, 'path', {d: d + 'Z', fill: fill, stroke: color, 'stroke-width': 3});
    
    
  }
  ell(pca4T1, '#d83a3a', 'rgba(216,60,60,.16)', 'ellipse-4t1');
  ell(pcaBM1, '#3a3ae8', 'rgba(60,60,232,.12)', 'ellipse-4t1-bm1');
  ell(pcaBM2, '#66bb33', 'rgba(102,187,51,.12)', 'ellipse-4t1-bm2');
  const h = el(g, 'line', {x1: 1024, x2: 1457, y1: Y(0), y2: Y(0), stroke: '#333', 'stroke-width': 3.5, 'stroke-dasharray': '9 6'});
  
  
  const v0 = el(g, 'line', {x1: X(0), x2: X(0), y1: 9, y2: 528, stroke: '#333', 'stroke-width': 3, 'stroke-dasharray': '9 6'});
  
  
  pcaXTicks.forEach(v => {
    const t = el(g, 'text', {x: X(v), y: 548, 'text-anchor': 'middle', 'font-size': 21, class: 's', style: 'fill:#444'}, v < 0 ? '\u2212' + Math.abs(v) : String(v));
    
    
    const k = el(g, 'line', {x1: X(v), x2: X(v), y1: 524, y2: 529, stroke: '#444', 'stroke-width': 1.5});
    
    
  });
  pcaYTicks.forEach(v => {
    const t = el(g, 'text', {x: 1019, y: Y(v) + 7, 'text-anchor': 'end', 'font-size': 21, class: 's', style: 'fill:#444'}, v < 0 ? '\u2212' + Math.abs(v) : String(v));
    
    
    const k = el(g, 'line', {x1: 1024, x2: 1028, y1: Y(v), y2: Y(v), stroke: '#444', 'stroke-width': 1.5});
    
    
  });
  function marker(parent, kind, cx, cy, color, name) {
    let m;
    if (kind === 'circle') m = el(parent, 'circle', {cx, cy, r: 6, fill: color});
    else if (kind === 'triangle') m = el(parent, 'polygon', {points: (cx-7)+','+(cy+6)+' '+(cx+7)+','+(cy+6)+' '+cx+','+(cy-7), fill: color});
    else m = el(parent, 'rect', {x: cx-6, y: cy-6, width: 12, height: 12, fill: color});
    
    
  }
  pca4T1.forEach(p => marker(g, 'circle', X(p[0]), Y(p[1]), '#d81818', 'point-4t1'));
  pcaBM1.forEach(p => marker(g, 'triangle', X(p[0]), Y(p[1]), '#1414e0', 'point-4t1-bm1'));
  pcaBM2.forEach(p => marker(g, 'square', X(p[0]), Y(p[1]), '#66b82c', 'point-4t1-bm2'));
  function lab(s, x, y, col) {
    const short = s.length < 6;
    const t = el(g, 'text', {x, y: y + 6, 'text-anchor': 'middle', 'font-size': 17, class: 's', style: 'fill:' + col, textLength: short ? 45 : 90, lengthAdjust: 'spacingAndGlyphs'}, s);
    
    
  }
  /* each label sits at a fixed offset from its own sample point */
  const redOff = [[-11,14],[-11,14],[-5,14]];
  const blueOff = [[-12,-14],[-10,14],[-10,14]];
  const greenOff = [[11,-13],[-10,12],[-13,-12]];
  pca4T1.forEach((p, i) => lab(pca4T1Names[i], X(p[0]) + redOff[i][0], Y(p[1]) + redOff[i][1], '#d85050'));
  pcaBM1.forEach((p, i) => lab(pcaBM1Names[i], X(p[0]) + blueOff[i][0], Y(p[1]) + blueOff[i][1], '#5050ee'));
  pcaBM2.forEach((p, i) => lab(pcaBM2Names[i], X(p[0]) + greenOff[i][0], Y(p[1]) + greenOff[i][1], '#88cc44'));
  const kinds = ['circle', 'triangle', 'square'];
  const cols = ['#d81818', '#1414e0', '#66b82c'];
  const strokes = ['#d83a3a', '#3a3ae8', '#66bb33'];
  pcaGroups.forEach((name, i) => {
    const top = 240 + i * 27;
    const r = el(g, 'rect', {x: 1485, y: top, width: 25, height: 25, fill: '#fff', stroke: strokes[i], 'stroke-width': 2.5});
    
    
    marker(g, kinds[i], 1497.5, top + 12.5, cols[i], 'legend-marker');
    const t = el(g, 'text', {x: 1522, y: top + 19, 'font-size': 19, class: 's', style: 'fill:#444'}, name);
    
    
  });
})();

/* ---------- Heatmap ---------- */
(function () {
  const g = document.getElementById('heatmap');
  const stops = [[0,[255,255,255]],[.24,[255,255,48]],[.40,[245,208,48]],[.55,[238,170,40]],[.75,[224,98,28]],[1,[220,16,16]]];
  const left = 86, top = 576, cw = 58.67, ch = 47.44;
  heatValues.forEach((row, r) => row.forEach((v, c) => {
    const cell = el(g, 'rect', {x: left + c * cw, y: top + r * ch, width: cw - 1, height: ch - 1, fill: lerpStops(stops, (v - .95) / .05)});
    
    
    const t = el(g, 'text', {x: left + (c + .5) * cw, y: top + (r + .5) * ch + 2, 'text-anchor': 'middle', 'font-size': 5, class: 'a', style: 'fill:#777'}, v === 1 ? '1' : v.toFixed(2));
    
    
  }));
  heatRows.forEach((s, i) => {
    const w = s.indexOf('luc') > 0 ? 99 : 120;
    const t = el(g, 'text', {x: 617, y: top + (i + .5) * ch + 7, 'font-size': 22, class: 's b', textLength: w, lengthAdjust: 'spacingAndGlyphs'}, s);
    
    
    const w2 = s.indexOf('luc') > 0 ? 96 : 117;
    const ct = el(g, 'text', {transform: 'translate(' + (left + (i + .5) * cw - 7) + ',1005) rotate(90)', 'font-size': 22, class: 's b', textLength: w2, lengthAdjust: 'spacingAndGlyphs'}, s);
    
    
  });
  heatLegendTicks.forEach(v => {
    const t = el(g, 'text', {x: 748, y: 576 + (1 - v) / .05 * 94 + 2, 'font-size': 5, class: 'a', style: 'fill:#555'}, v === 1 ? '1' : v.toFixed(2));
    
    
  });
})();

/* ---------- Volcano plots ---------- */
function drawVolcano(name, left, right, x0, xs, thr, xTicks, cloud, spike, downDense, upDense, notSig, down, up) {
  const g = el(document.getElementById('volcanoes'), 'g', {});
  
  
  const X = v => x0 + xs * v;
  const Y = v => 1605 - 78.6 * v;
  volcanoYTicks.forEach(v => {
    const l = el(g, 'line', {x1: left, x2: right, y1: Y(v), y2: Y(v), stroke: '#ececec', 'stroke-width': 1.5});
    
    
    const t = el(g, 'text', {x: left - 6, y: Y(v) + 6, 'text-anchor': 'end', 'font-size': 18, class: 's', style: 'fill:#444'}, String(v));
    
    
  });
  xTicks.forEach(v => {
    const l = el(g, 'line', {x1: X(v), x2: X(v), y1: 1212, y2: 1613, stroke: '#ececec', 'stroke-width': 1.5});
    
    
    const t = el(g, 'text', {x: X(v), y: 1633, 'text-anchor': 'middle', 'font-size': 18, class: 's', style: 'fill:#444'}, v < 0 ? '\u2212' + Math.abs(v) : String(v));
    
    
  });
  function poly(pts, fill, nm) {
    if (!pts.length) return;
    const p = el(g, 'polygon', {points: pts.map(q => X(q[0]).toFixed(1) + ',' + Y(q[1]).toFixed(1)).join(' '), fill, stroke: fill, 'stroke-width': 1.5, 'stroke-linejoin': 'round'});
    
    
  }
  poly(spike.map(r => [r[1], r[0]]).concat(spike.map(r => [r[2], r[0]]).reverse()), '#d9d9d9', 'not-sig-spike-left');
  poly(spike.map(r => [r[3], r[0]]).concat(spike.map(r => [r[4], r[0]]).reverse()), '#d9d9d9', 'not-sig-spike-right');
  poly(cloud.map(r => [r[1], r[0]]).concat(cloud.map(r => [r[2], r[0]]).reverse()), '#b5b5b5', 'not-sig-cloud-left');
  poly(cloud.map(r => [r[3], r[0]]).concat(cloud.map(r => [r[4], r[0]]).reverse()), '#b5b5b5', 'not-sig-cloud-right');
  notSig.forEach(p => {
    const c = el(g, 'circle', {cx: X(p[0]), cy: Y(p[1]), r: 2.3, fill: '#bcbcbc'});
    
    
  });
  poly(downDense.map(r => [r[1], r[0]]).concat(downDense.map(r => [r[2], r[0]]).reverse()), '#2a22cf', 'down-regulated-dense-region');
  poly(upDense.map(r => [r[1], r[0]]).concat(upDense.map(r => [r[2], r[0]]).reverse()), '#cc0a2c', 'up-regulated-dense-region');
  down.forEach(p => {
    const c = el(g, 'circle', {cx: X(p[0]), cy: Y(p[1]), r: 2.7, fill: '#2a22cf'});
    
    
  });
  up.forEach(p => {
    const c = el(g, 'circle', {cx: X(p[0]), cy: Y(p[1]), r: 2.7, fill: '#cc0a2c'});
    
    
  });
  const hl = el(g, 'line', {x1: left, x2: right, y1: Y(1.3), y2: Y(1.3), stroke: '#a8a8a8', 'stroke-width': 1.6});
  
  
  [-thr, thr].forEach(v => {
    const l = el(g, 'line', {x1: X(v), x2: X(v), y1: 1212, y2: 1613, stroke: '#a8a8a8', 'stroke-width': 1.4});
    
    
  });
  const f = el(g, 'rect', {x: left, y: 1212, width: right - left, height: 401, fill: 'none', stroke: '#8c8c8c', 'stroke-width': 2.4});
  
  
}
drawVolcano('volcano-bm1-vs-4t1', 144, 574.5, 359.4, 42.9, .26, volcanoXTicks12, v1Cloud, v1Spike, v1DownDense, v1UpDense, v1NotSig, v1Down, v1Up);
drawVolcano('volcano-bm2-vs-4t1', 661.4, 1092, 876, 43, .28, volcanoXTicks12, v2Cloud, v2Spike, v2DownDense, v2UpDense, v2NotSig, v2Down, v2Up);
drawVolcano('volcano-bm2-vs-bm1', 1182.6, 1611.7, 1397.5, 71.5, .26, volcanoXTicks3, v3Cloud, v3Spike, v3DownDense, v3UpDense, v3NotSig, v3Down, v3Up);

/* ---------- GO bars ---------- */
(function () {
  const g = document.getElementById('enrichment');
  const Y = v => 2019.6 - 39.3 * v;
  function group(scores, terms, start, color, textColor, nm) {
    const pitch = 14.59;
    scores.forEach((s, i) => {
      const x = start + i * pitch;
      const r = el(g, 'rect', {x, y: Y(s), width: pitch - 1.9, height: Y(0) - Y(s), fill: color});
      
      
      const cx = x + (pitch - 1.9) / 2;
      const tk = el(g, 'line', {x1: cx, x2: cx, y1: 2020, y2: 2025, stroke: '#444', 'stroke-width': 1.4});
      
      
      const t = el(g, 'text', {transform: 'translate(' + (cx + 4) + ',2032) rotate(-70)', 'text-anchor': 'end', 'font-size': 12.2, class: 'a', style: 'fill:' + textColor}, terms[i]);
      
      
    });
  }
  group(bpScores, bpTerms, 94.7, '#5aa07c', '#72b898', 'bp');
  group(ccScores, ccTerms, 358.8, '#bf5f27', '#c8804c', 'cc');
  group(mfScores, mfTerms, 624, '#6a70ae', '#868cc6', 'mf');
  const ya = el(g, 'line', {x1: 86.7, x2: 86.7, y1: 1729, y2: 2020, stroke: '#555', 'stroke-width': 1.6});
  
  
  const xa = el(g, 'line', {x1: 83, x2: 879, y1: 2020, y2: 2020, stroke: '#666', 'stroke-width': 2.4});
  
  
  enrichTicks.forEach(v => {
    const t = el(g, 'text', {x: 74, y: Y(v) + 10, 'text-anchor': 'end', 'font-size': 28, class: 'a'}, String(v));
    
    
    const k = el(g, 'line', {x1: 82, x2: 87, y1: Y(v), y2: Y(v), stroke: '#555', 'stroke-width': 1.4});
    
    
  });
})();

/* ---------- KEGG dot plot ---------- */
(function () {
  const g = document.getElementById('dotplot');
  const X = v => 1278.8 + 714 * (v - 3.5);
  const Y = i => 1771.5 + 35.1 * i;
  const R = c => 4 + 6.6 * Math.sqrt((c - 4) / 4);
  const stops = [[0,[230,0,0]],[.25,[212,102,28]],[.5,[196,154,40]],[.75,[174,208,50]],[1,[143,252,54]]];
  const C = v => lerpStops(stops, (1.178 - v) / (1.178 - 1.032));
  dotXTicks.forEach(v => {
    [v, v + .05].forEach((q, idx) => {
      if (X(q) > 1575) return;
      const l = el(g, 'line', {x1: X(q), x2: X(q), y1: 1750, y2: 2353, stroke: idx ? '#f6f6f6' : '#eeeeee', 'stroke-width': 1.2});
      
      
    });
    const t = el(g, 'text', {x: X(v), y: 2369, 'text-anchor': 'middle', 'font-size': 14, class: 'a', style: 'fill:#555'}, v.toFixed(1));
    
    
  });
  pathways.forEach((p, i) => {
    const l = el(g, 'line', {x1: 1225, x2: 1575, y1: Y(i), y2: Y(i), stroke: '#eeeeee', 'stroke-width': 1.2});
    
    
    const isJak = p.indexOf('JAK') === 0;
    const t = el(g, 'text', {x: 1218, y: Y(i) + 5, 'text-anchor': 'end', 'font-size': 14.5, class: 'a', style: 'fill:#555;fill:' + (isJak ? '#e8323c' : '#555')}, p);
    
    
    const tk = el(g, 'line', {x1: 1221, x2: 1225, y1: Y(i), y2: Y(i), stroke: '#777', 'stroke-width': 1.2});
    
    
    const c = el(g, 'ellipse', {cx: X(enrichmentFactor[i]), cy: Y(i), rx: R(pathwayCount[i]), ry: R(pathwayCount[i]) * .88, fill: C(pathwayLogP[i])});
    
    
  });
  const f = el(g, 'rect', {x: 1225, y: 1750, width: 350, height: 603, fill: 'none', stroke: '#a2a2a2', 'stroke-width': 2});
  
  
  colorLegendTicks.forEach(v => {
    const t = el(g, 'text', {x: 1632, y: 2037.4 + (v - 1.04) / .12 * -87.9 + 5, 'font-size': 12.5, class: 'a', style: 'fill:#555'}, v.toFixed(2));
    
    
  });
  sizeLegendTicks.forEach((v, i) => {
    const cy = 2094 + i * 20.4;
    const c = el(g, 'ellipse', {cx: 1610.5, cy, rx: R(v), ry: R(v) * .88, fill: '#000'});
    
    
    const t = el(g, 'text', {x: 1631, y: cy + 4.5, 'font-size': 12.5, class: 'a', style: 'fill:#555'}, String(v));
    
    
  });
})();
</script>
</svg>
</body>
</html>
